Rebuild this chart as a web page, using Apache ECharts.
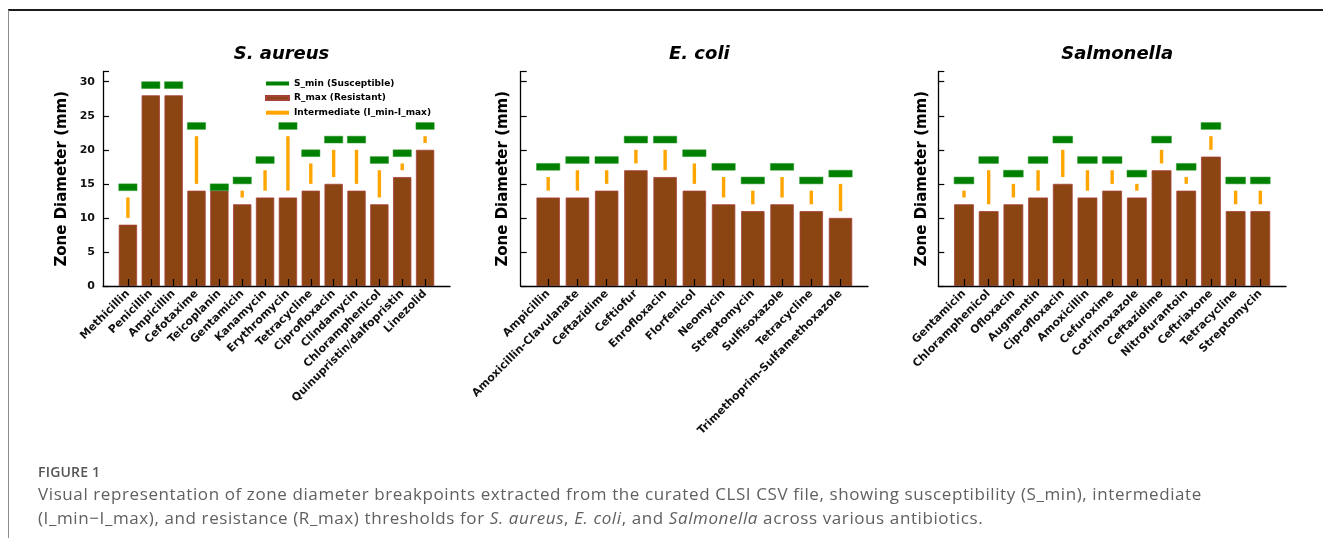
<!DOCTYPE html>
<html>
<head>
<meta charset="utf-8">
<script src="https://cdn.jsdelivr.net/npm/echarts@6/dist/echarts.min.js"></script>
<style>
  html, body { margin: 0; padding: 0; background: #fff; }
  #wrap { position: relative; width: 1323px; height: 538px; overflow: hidden; }
  #chart { position: absolute; left: 0; top: 0; width: 1323px; height: 538px; }
  #frame { position: absolute; left: 8px; top: 9px; width: 1330px; height: 540px;
           border-top: 2px solid #1c1c1c; border-left: 1.5px solid #8c8c8c; pointer-events: none; }
  #cap { position: absolute; left: 38px; top: 462px; font-family: "Open Sans", "Lato", sans-serif; color: #606060; white-space: nowrap; }
  #cap .fig { font-size: 14px; font-weight: 600; color: #555; letter-spacing: 0.2px; line-height: 20px; }
  #cap .txt { font-size: 17px; line-height: 24px; letter-spacing: 0.6px; }
</style>
</head>
<body>
<div id="wrap">
  <div id="chart"></div>
  <div id="frame"></div>
  <div id="cap">
    <div class="fig">FIGURE 1</div>
    <div class="txt">Visual representation of zone diameter breakpoints extracted from the curated CLSI CSV file, showing susceptibility (S_min), intermediate<br>(I_min−I_max), and resistance (R_max) thresholds for <i>S. aureus</i>, <i>E. coli</i>, and <i>Salmonella</i> across various antibiotics.</div>
  </div>
</div>
<script>
// ---------------- DATA ----------------
const panelTitles = ['S. aureus', 'E. coli', 'Salmonella'];
const yTicks = [0, 5, 10, 15, 20, 25, 30];
const legendNames = ['S_min (Susceptible)', 'R_max (Resistant)', 'Intermediate (I_min-I_max)'];

const saureusCats = ['Methicillin','Penicillin','Ampicillin','Cefotaxime','Teicoplanin','Gentamicin','Kanamycin','Erythromycin','Tetracycline','Ciprofloxacin','Clindamycin','Chloramphenicol','Quinupristin/dalfopristin','Linezolid'];
const saureusR    = [9, 28, 28, 14, 14, 12, 13, 13, 14, 15, 14, 12, 16, 20];
const saureusS    = [14, 29, 29, 23, 14, 15, 18, 23, 19, 21, 21, 18, 19, 23];
const saureusImin = [10, null, null, 15, null, 13, 14, 14, 15, 16, 15, 13, 17, 21];
const saureusImax = [13, null, null, 22, null, 14, 17, 22, 18, 20, 20, 17, 18, 22];

const ecoliCats = ['Ampicillin','Amoxicillin-Clavulanate','Ceftazidime','Ceftiofur','Enrofloxacin','Florfenicol','Neomycin','Streptomycin','Sulfisoxazole','Tetracycline','Trimethoprim-Sulfamethoxazole'];
const ecoliR    = [13, 13, 14, 17, 16, 14, 12, 11, 12, 11, 10];
const ecoliS    = [17, 18, 18, 21, 21, 19, 17, 15, 17, 15, 16];
const ecoliImin = [14, 14, 15, 18, 17, 15, 13, 12, 13, 12, 11];
const ecoliImax = [16, 17, 17, 20, 20, 18, 16, 14, 16, 14, 15];

const salCats = ['Gentamicin','Chloramphenicol','Ofloxacin','Augmentin','Ciprofloxacin','Amoxicillin','Cefuroxime','Cotrimoxazole','Ceftazidime','Nitrofurantoin','Ceftriaxone','Tetracycline','Streptomycin'];
const salR    = [12, 11, 12, 13, 15, 13, 14, 13, 17, 14, 19, 11, 11];
const salS    = [15, 18, 16, 18, 21, 18, 18, 16, 21, 17, 23, 15, 15];
const salImin = [13, 12, 13, 14, 16, 14, 15, 14, 18, 15, 20, 12, 12];
const salImax = [14, 17, 15, 17, 20, 17, 17, 15, 20, 16, 22, 14, 14];

// ---------------- LAYOUT / STYLE ----------------
const panels = [
  { cats: saureusCats, R: saureusR, S: saureusS, Imin: saureusImin, Imax: saureusImax, axLeft: 103, axRight: 450, nameGap: 33, showLabels: true },
  { cats: ecoliCats, R: ecoliR, S: ecoliS, Imin: ecoliImin, Imax: ecoliImax, axLeft: 520.7, axRight: 868, nameGap: 10, showLabels: false },
  { cats: salCats, R: salR, S: salS, Imin: salImin, Imax: salImax, axLeft: 938.3, axRight: 1286, nameGap: 9, showLabels: false }
];
const W = 1323, H = 538;
const gridTop = 71.5, gridBottomY = 286;
const YMAX = 31.5;
const FONT = 'DejaVu Sans';
const C_BAR = '#8B4513', C_BAR_EDGE = '#a8413a', C_S = '#008000', C_I = '#FFA500';

const grids = [], xAxes = [], yAxes = [], series = [], titles = [];

panels.forEach((p, k) => {
  const N = p.cats.length;
  const Wd = p.axRight - p.axLeft;
  const pad = 0.4 + 0.05 * (N - 0.2);
  const s = Wd / ((N - 1) + 2 * pad);
  const innerLeft = p.axLeft + (pad - 0.5) * s;
  const innerW = N * s;
  const gh = gridBottomY - gridTop;

  // outer grid (axis lines + y ticks)
  const go = grids.length;
  grids.push({ left: p.axLeft, top: gridTop, width: Wd, height: gh });
  xAxes.push({ gridIndex: go, type: 'value', min: 0, max: 1, z: 10,
    axisLine: { show: true, lineStyle: { color: '#000', width: 1.3 } },
    axisTick: { show: false }, axisLabel: { show: false }, splitLine: { show: false } });
  yAxes.push({ gridIndex: go, type: 'value', min: 0, max: YMAX, interval: 5, z: 10,
    name: 'Zone Diameter (mm)', nameLocation: 'middle', nameGap: p.nameGap,
    nameTextStyle: { fontFamily: FONT, fontWeight: 'bold', fontSize: 15, color: '#000' },
    axisLine: { show: true, lineStyle: { color: '#000', width: 1.3 } },
    axisTick: { show: true, inside: true, length: 6, lineStyle: { color: '#000', width: 1.2 } },
    axisLabel: { show: p.showLabels, margin: 8, fontFamily: FONT, fontWeight: 'bold', fontSize: 11, color: '#111',
      formatter: v => (yTicks.indexOf(v) >= 0 ? String(v) : '') },
    splitLine: { show: false } });

  // inner grid (data)
  const gi = grids.length;
  grids.push({ left: innerLeft, top: gridTop, width: innerW, height: gh });
  xAxes.push({ gridIndex: gi, type: 'category', data: p.cats, z: 10,
    axisLine: { show: false },
    axisTick: { show: true, inside: true, alignWithLabel: true, length: 7, lineStyle: { color: '#000', width: 1.2 } },
    axisLabel: { interval: 0, rotate: 45, margin: 6, fontFamily: FONT, fontWeight: 'bold', fontSize: 11, color: '#111' } });
  yAxes.push({ gridIndex: gi, type: 'value', min: 0, max: YMAX, show: false });

  titles.push({ text: panelTitles[k], left: p.axLeft + Wd / 2, top: 40, textAlign: 'center',
    textStyle: { fontFamily: FONT, fontStyle: 'italic', fontWeight: 'bold', fontSize: 18, color: '#000' } });

  const xi = xAxes.length - 1, yi = yAxes.length - 1;

  series.push({ name: legendNames[1], type: 'bar', xAxisIndex: xi, yAxisIndex: yi, barWidth: '80%', z: 2,
    itemStyle: { color: C_BAR, borderColor: C_BAR_EDGE, borderWidth: 0.8 },
    data: p.R });

  const iData = [];
  p.cats.forEach((c, i) => { if (p.Imin[i] != null) iData.push([i, p.Imin[i], p.Imax[i]]); });
  series.push({ name: legendNames[2], type: 'custom', xAxisIndex: xi, yAxisIndex: yi, z: 3,
    itemStyle: { color: C_I }, encode: { x: 0, y: [1, 2] },
    renderItem: (params, api) => {
      const a = api.coord([api.value(0), api.value(1)]);
      const b = api.coord([api.value(0), api.value(2)]);
      return { type: 'line', shape: { x1: a[0], y1: a[1], x2: b[0], y2: b[1] },
        style: { stroke: C_I, lineWidth: 3.4, lineCap: 'butt' } };
    },
    data: iData });

  const sData = p.S.map((v, i) => [i, v]);
  series.push({ name: legendNames[0], type: 'custom', xAxisIndex: xi, yAxisIndex: yi, z: 4,
    itemStyle: { color: C_S }, encode: { x: 0, y: 1 },
    renderItem: (params, api) => {
      const lo = api.coord([api.value(0), api.value(1)]);
      const hi = api.coord([api.value(0), api.value(1) + 1]);
      const w = api.size([1, 0])[0] * 0.8;
      return { type: 'rect', shape: { x: lo[0] - w / 2, y: hi[1], width: w, height: lo[1] - hi[1] },
        style: { fill: C_S, stroke: '#2e9a2e', lineWidth: 0.5 } };
    },
    data: sData });
});

const chart = echarts.init(document.getElementById('chart'), null, { renderer: 'canvas', width: W, height: H });
chart.setOption({
  animation: false,
  backgroundColor: 'transparent',
  title: titles,
  grid: grids,
  xAxis: xAxes,
  yAxis: yAxes,
  legend: {
    orient: 'vertical', left: 265, top: 78, padding: 0,
    itemWidth: 23, itemHeight: 4, itemGap: 3.6, icon: 'rect',
    data: legendNames.map(n => ({ name: n })),
    textStyle: { fontFamily: FONT, fontWeight: 'bold', fontSize: 9, color: '#000', lineHeight: 11 },
    selectedMode: false
  },
  series: series
});
</script>
</body>
</html>
